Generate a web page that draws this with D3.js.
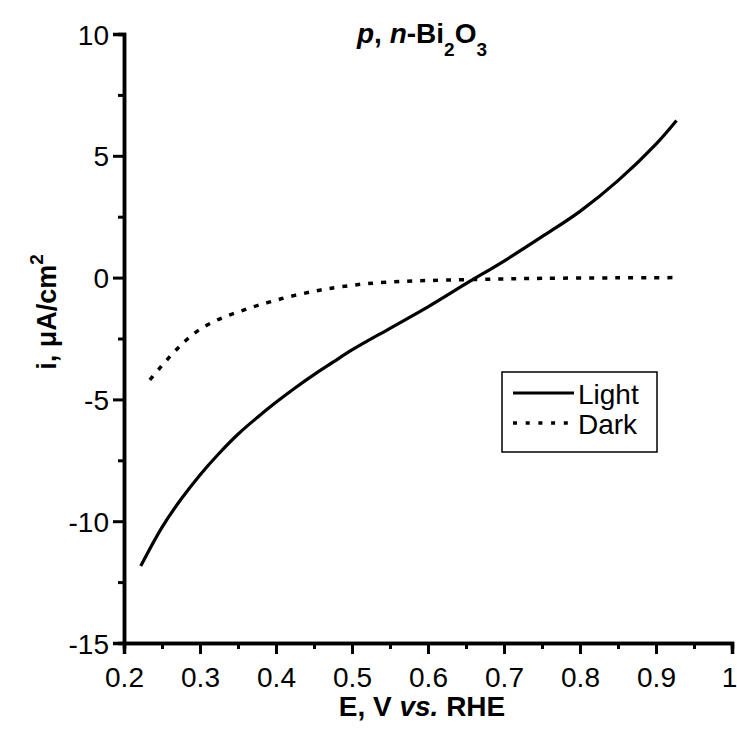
<!DOCTYPE html>
<html><head><meta charset="utf-8">
<script src="https://cdn.jsdelivr.net/npm/d3@7"></script>
<style>body{margin:0;background:#fff}svg{display:block}text{font-family:"Liberation Sans",Arial,sans-serif;fill:#000}</style>
</head><body>
<svg id="c" width="737" height="739"></svg>
<script>
const lightE = [0.222,0.25,0.275,0.3,0.325,0.35,0.375,0.4,0.425,0.45,0.475,0.5,0.55,0.6,0.65,0.7,0.75,0.8,0.85,0.9,0.927];
const lightI = [-11.84,-10.25,-9.1,-8.1,-7.22,-6.43,-5.75,-5.12,-4.53,-3.98,-3.47,-2.97,-2.08,-1.2,-0.25,0.68,1.68,2.72,3.98,5.48,6.45];
const darkE = [0.234,0.247,0.261,0.273,0.285,0.3,0.318,0.335,0.353,0.37,0.385,0.4,0.414,0.432,0.449,0.464,0.48,0.519,0.572,0.625,0.69,0.75,0.85,0.927];
const darkI = [-4.2,-3.72,-3.22,-2.83,-2.48,-2.12,-1.81,-1.58,-1.38,-1.2,-1.06,-0.93,-0.81,-0.68,-0.57,-0.48,-0.4,-0.25,-0.15,-0.1,-0.06,-0.03,-0.01,0];
const xMajor = [0.2,0.3,0.4,0.5,0.6,0.7,0.8,0.9,1.0];
const xLabels = ["0.2","0.3","0.4","0.5","0.6","0.7","0.8","0.9","1"];
const yMajor = [-15,-10,-5,0,5,10];
const yLabels = ["-15","-10","-5","0","5","10"];
const seriesNames = ["Light","Dark"];

const svg = d3.select("#c");
const x = d3.scaleLinear().domain([0.2,1.0]).range([124,732]);
const y = d3.scaleLinear().domain([-15,10]).range([643,34]);

// axes
const xAxis = d3.axisBottom(x).tickValues(xMajor).tickSize(11).tickFormat((d,i)=>xLabels[i]);
const gx = svg.append("g").attr("transform","translate(0,643)").call(xAxis);
const xMinor = d3.axisBottom(x).tickValues(d3.range(0.25,1.0,0.1)).tickSize(6).tickFormat("");
svg.append("g").attr("transform","translate(0,643)").call(xMinor);
const yAxis = d3.axisLeft(y).tickValues(yMajor).tickSize(11).tickFormat((d,i)=>yLabels[i]);
const gy = svg.append("g").attr("transform","translate(124,0)").call(yAxis);
const yMinor = d3.axisLeft(y).tickValues(d3.range(-12.5,10,5)).tickSize(6).tickFormat("");
svg.append("g").attr("transform","translate(124,0)").call(yMinor);
svg.selectAll(".domain").attr("stroke","#000").attr("stroke-width",3.5);
svg.selectAll(".tick line").attr("stroke","#000").attr("stroke-width",3);
svg.selectAll(".tick text").style("font-size","28px").attr("fill","#000");
gx.selectAll(".tick text").attr("dy",null).attr("y",44);
gx.selectAll(".tick text").filter((d,i)=>i===xMajor.length-1).attr("dx",-3);
gy.selectAll(".tick text").attr("x",-15).attr("dy","0.36em");

// lines
const light = lightE.map((e,i)=>[e,lightI[i]]);
const dark = darkE.map((e,i)=>[e,darkI[i]]);
const line = d3.line().x(d=>x(d[0])).y(d=>y(d[1])).curve(d3.curveCatmullRom.alpha(0.5));
svg.append("path").datum(light).attr("d",line).attr("fill","none").attr("stroke","#000").attr("stroke-width",3.2);
svg.append("path").datum(dark).attr("d",line).attr("fill","none").attr("stroke","#000").attr("stroke-width",3.5).attr("stroke-dasharray","5,8");

// legend
const lg = svg.append("g");
lg.append("rect").attr("x",502).attr("y",372).attr("width",155).attr("height",80).attr("fill","none").attr("stroke","#000").attr("stroke-width",1.5);
lg.append("line").attr("x1",513).attr("x2",574).attr("y1",393).attr("y2",393).attr("stroke","#000").attr("stroke-width",3.2);
lg.append("line").attr("x1",513).attr("x2",574).attr("y1",423).attr("y2",423).attr("stroke","#000").attr("stroke-width",3.5).attr("stroke-dasharray","4,8.7");
lg.append("text").attr("x",578).attr("y",404).style("font-size","28px").text(seriesNames[0]);
lg.append("text").attr("x",578).attr("y",434).style("font-size","28px").text(seriesNames[1]);

// title
const t = svg.append("text").attr("x",422).attr("y",43).attr("text-anchor","middle").style("font-size","28px").style("font-weight","bold");
t.append("tspan").style("font-style","italic").text("p");
t.append("tspan").text(", ");
t.append("tspan").style("font-style","italic").text("n");
t.append("tspan").text("-Bi");
t.append("tspan").attr("dy",13).style("font-size","19px").text("2");
t.append("tspan").attr("dy",-13).text("O");
t.append("tspan").attr("dy",13).style("font-size","19px").text("3");

// x title
const xt = svg.append("text").attr("x",422).attr("y",716).attr("text-anchor","middle").style("font-size","28px").style("font-weight","bold");
xt.append("tspan").text("E, V ");
xt.append("tspan").style("font-style","italic").text("vs.");
xt.append("tspan").text(" RHE");

// y title
const yt = svg.append("text").attr("transform","translate(56,312) rotate(-90)").attr("text-anchor","middle").style("font-size","27px").style("font-weight","bold");
yt.append("tspan").text("i, \u03BCA/cm");
yt.append("tspan").attr("dy",-13).style("font-size","19px").text("2");
</script>
</body></html>
